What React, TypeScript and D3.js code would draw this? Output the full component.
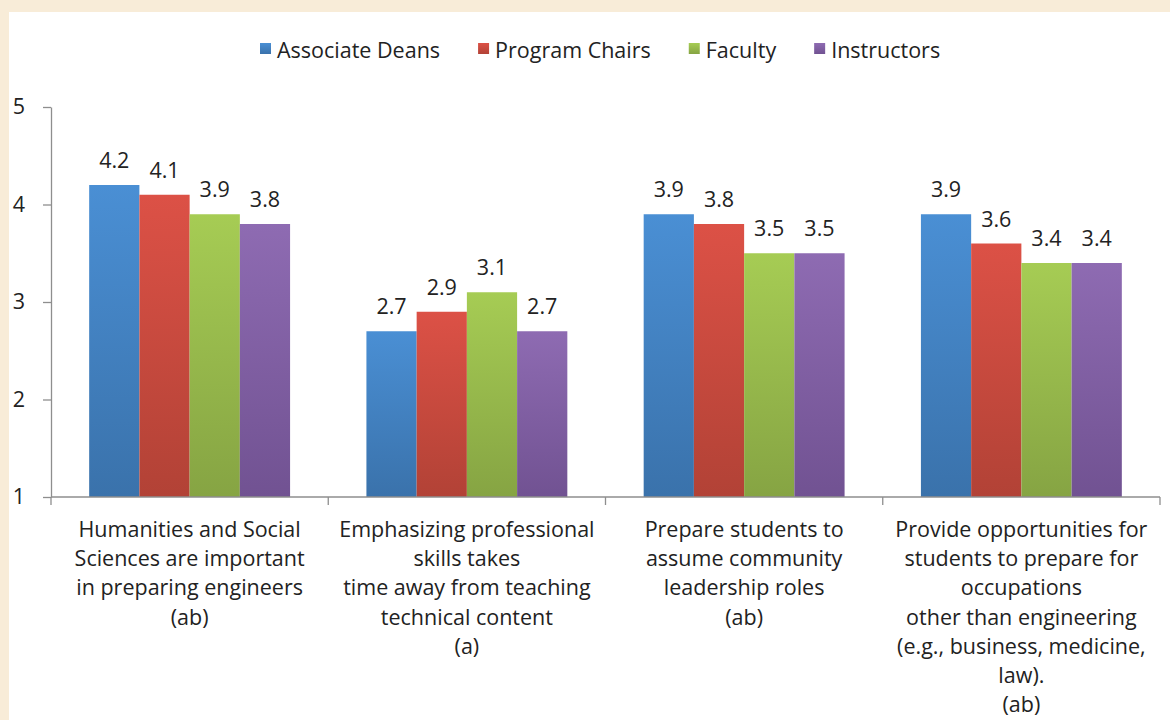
import { useEffect, useRef } from "react"
import * as d3 from "d3"

// Survey categories, each split into the lines shown under the axis
const categories = ["hss", "prof", "lead", "occ"]
const categoryLines = [
  ["Humanities and Social", "Sciences are important", "in preparing engineers", "(ab)"],
  ["Emphasizing professional", "skills takes", "time away from teaching", "technical content", "(a)"],
  ["Prepare students to", "assume community", "leadership roles", "(ab)"],
  [
    "Provide opportunities for",
    "students to prepare for",
    "occupations",
    "other than engineering",
    "(e.g., business, medicine,",
    "law).",
    "(ab)",
  ],
]

const seriesNames = ["Associate Deans", "Program Chairs", "Faculty", "Instructors"]
const associateDeans = [4.2, 2.7, 3.9, 3.9]
const programChairs = [4.1, 2.9, 3.8, 3.6]
const faculty = [3.9, 3.1, 3.5, 3.4]
const instructors = [3.8, 2.7, 3.5, 3.4]
const yTicks = [1, 2, 3, 4, 5]

const topColors = ["#4a8fd4", "#dc5146", "#a6cc54", "#8e6bb2"]
const bottomColors = ["#3a72ab", "#b24236", "#86a443", "#715292"]

const W = 1170
const H = 720

const App = () => {
  const svgRef = useRef<SVGSVGElement | null>(null)

  useEffect(() => {
    if (!svgRef.current) return
    const svg = d3.select(svgRef.current)
    svg.selectAll("*").remove()

    const font = "'Open Sans', Lato, sans-serif"
    const fs = 21.5
    const series = [associateDeans, programChairs, faculty, instructors]

    // panel
    svg.append("rect").attr("width", W).attr("height", H).attr("fill", "#f8ecd8")
    svg.append("rect").attr("x", 9).attr("y", 12).attr("width", W - 9).attr("height", H - 12).attr("fill", "#fff")

    const defs = svg.append("defs")
    topColors.forEach((c, i) => {
      const grad = defs
        .append("linearGradient")
        .attr("id", `grad${i}`)
        .attr("x1", 0)
        .attr("y1", 0)
        .attr("x2", 0)
        .attr("y2", 1)
      grad.append("stop").attr("offset", "0%").attr("stop-color", c)
      grad.append("stop").attr("offset", "100%").attr("stop-color", bottomColors[i])
    })

    const left = 51
    const right = 1160
    const top = 107
    const bottom = 497

    const x0 = d3.scaleBand<string>().domain(categories).range([left, right]).paddingInner(0).paddingOuter(0)
    const x1 = d3
      .scaleBand<string>()
      .domain(seriesNames)
      .range([0, x0.bandwidth()])
      .paddingInner(0)
      .paddingOuter(0.76)
    const y = d3.scaleLinear().domain([1, 5]).range([bottom, top])

    const axisColor = "#8e8e8e"

    // y axis
    const yAxis = svg
      .append("g")
      .attr("transform", `translate(${left},0)`)
      .call(
        d3
          .axisLeft(y)
          .tickValues(yTicks)
          .tickFormat(d3.format("d"))
          .tickSize(8)
          .tickPadding(18)
          .tickSizeOuter(0),
      )
    yAxis.select(".domain").attr("stroke", axisColor).attr("stroke-width", 1.3)
    yAxis.selectAll("line").attr("stroke", axisColor).attr("stroke-width", 1.3)
    yAxis
      .selectAll("text")
      .attr("font-family", font)
      .attr("font-size", fs)
      .attr("fill", "#222")

    // bars
    categories.forEach((cat, ci) => {
      const g = svg.append("g").attr("transform", `translate(${x0(cat)},0)`)
      series.forEach((vals, si) => {
        const v = vals[ci]
        const bx = x1(seriesNames[si]) as number
        g.append("rect")
          .attr("x", bx)
          .attr("y", y(v))
          .attr("width", x1.bandwidth())
          .attr("height", y(1) - y(v))
          .attr("fill", `url(#grad${si})`)
        g.append("text")
          .attr("x", bx + x1.bandwidth() / 2)
          .attr("y", y(v) - 17)
          .attr("text-anchor", "middle")
          .attr("font-family", font)
          .attr("font-size", fs)
          .attr("fill", "#222")
          .text(v.toFixed(1))
      })
    })

    // x axis
    const xAxis = svg.append("g").attr("transform", `translate(0,${bottom})`)
    xAxis
      .append("line")
      .attr("x1", left)
      .attr("x2", right)
      .attr("stroke", axisColor)
      .attr("stroke-width", 1.3)
    const edges = categories.map((c) => x0(c) as number).concat([right])
    xAxis
      .selectAll(".tick")
      .data(edges)
      .join("line")
      .attr("x1", (d) => d)
      .attr("x2", (d) => d)
      .attr("y1", 0)
      .attr("y2", 8)
      .attr("stroke", axisColor)
      .attr("stroke-width", 1.3)

    categories.forEach((cat, ci) => {
      const cx = (x0(cat) as number) + x0.bandwidth() / 2
      const t = svg
        .append("text")
        .attr("text-anchor", "middle")
        .attr("font-family", font)
        .attr("font-size", fs)
        .attr("fill", "#222")
      categoryLines[ci].forEach((line, li) => {
        t.append("tspan")
          .attr("x", cx)
          .attr("y", 537 + li * 29.2)
          .text(line)
      })
    })

    // legend
    const legend = svg.append("g").attr("transform", "translate(260,52)")
    let lx = 0
    seriesNames.forEach((name, i) => {
      const item = legend.append("g").attr("transform", `translate(${lx},0)`)
      item.append("rect").attr("x", 0).attr("y", -9).attr("width", 11).attr("height", 11).attr("fill", `url(#grad${i})`)
      const txt = item
        .append("text")
        .attr("x", 17)
        .attr("y", 0)
        .attr("dy", "0.3em")
        .attr("font-family", font)
        .attr("font-size", fs)
        .attr("fill", "#222")
        .text(name)
      const w = (txt.node() as SVGTextElement).getComputedTextLength()
      lx += 17 + w + 38
    })
  }, [])

  return (
    <svg
      ref={svgRef}
      width={W}
      height={H}
      style={{ position: "absolute", left: 0, top: 0, display: "block" }}
    />
  )
}

export default App
